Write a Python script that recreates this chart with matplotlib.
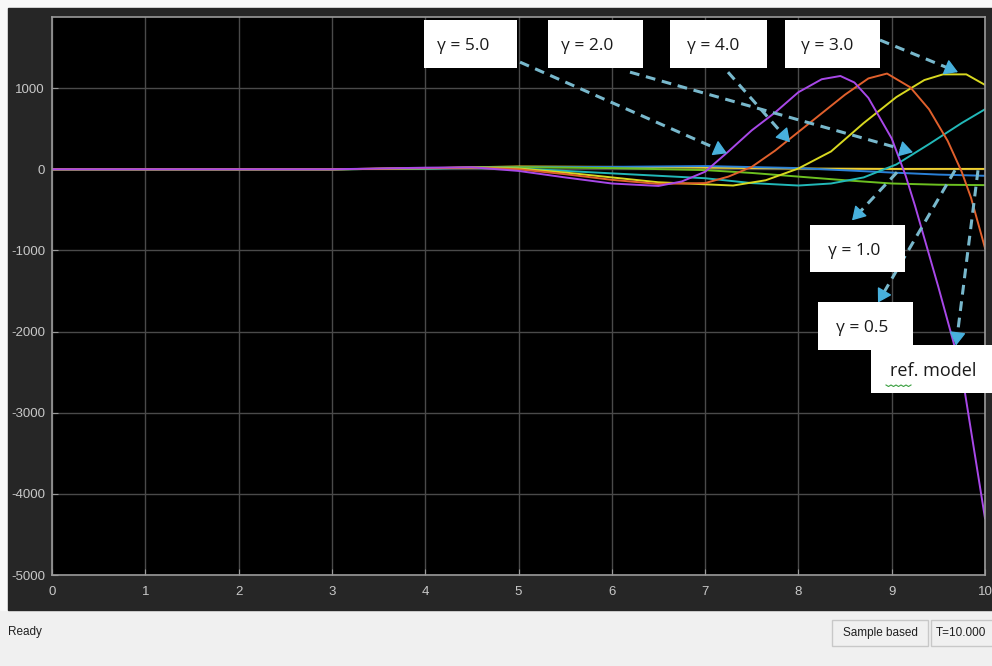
import matplotlib
matplotlib.use("Agg")
import math
import matplotlib.pyplot as plt
from matplotlib.patches import Rectangle

# ---------------- data ----------------
t_g50 = [0, 1, 2, 3, 4, 4.5, 5, 5.5, 6, 6.5, 6.75, 7, 7.25, 7.5, 7.75, 8, 8.25, 8.45, 8.6, 8.75, 9, 9.15, 9.25, 9.5, 9.75, 10]
y_g50 = [0, 0, 0, 0, 20, 25, -20, -100, -175, -205, -150, -30, 220, 480, 700, 950, 1110, 1150, 1070, 880, 380, -80, -450, -1450, -2500, -4300]

t_g40 = [0, 1, 2, 3, 4, 4.5, 5, 5.5, 6, 6.5, 7, 7.25, 7.5, 7.75, 8, 8.25, 8.5, 8.75, 8.95, 9.2, 9.4, 9.6, 9.75, 9.85, 10]
y_g40 = [0, 0, 0, 0, 15, 20, 0, -60, -130, -180, -170, -90, 30, 230, 460, 690, 920, 1120, 1180, 1010, 740, 350, -30, -350, -970]

t_g30 = [0, 1, 2, 3, 4, 4.5, 5, 5.5, 6, 6.5, 7, 7.3, 7.65, 8, 8.35, 8.7, 9.05, 9.35, 9.55, 9.8, 10]
y_g30 = [0, 0, 0, 0, 15, 20, 10, -40, -100, -160, -185, -200, -135, 10, 220, 570, 890, 1100, 1170, 1170, 1040]

t_g20 = [0, 1, 2, 3, 4, 4.5, 5, 5.5, 6, 6.5, 7, 7.5, 8, 8.35, 8.7, 9.05, 9.4, 9.75, 10]
y_g20 = [0, 0, 0, 0, 10, 15, 10, -20, -50, -80, -110, -170, -200, -175, -100, 60, 310, 570, 740]

t_g10 = [0, 1, 2, 3, 4, 4.5, 5, 6, 7, 7.5, 8, 8.5, 9, 9.5, 10]
y_g10 = [0, 0, 0, 0, 10, 20, 25, 15, -10, -45, -90, -135, -175, -190, -195]

t_g05 = [0, 1, 2, 3, 4, 4.5, 5, 6, 7, 8, 9, 9.5, 10]
y_g05 = [0, 0, 0, 0, 10, 20, 25, 30, 40, 15, -40, -65, -80]

t_ref = [0, 1, 2, 3, 4, 4.5, 5, 6, 7, 8, 9, 10]
y_ref = [0, 0, 0, 0, 10, 25, 35, 30, 20, 10, 5, 5]

x_ticks = list(range(0, 11))
y_ticks = [-5000, -4000, -3000, -2000, -1000, 0, 1000]
box_labels = ["γ = 5.0", "γ = 2.0", "γ = 4.0", "γ = 3.0", "γ = 1.0", "γ = 0.5", "ref. model"]

# ---------------- figure / layout ----------------
W, H = 992, 666
fig = plt.figure(figsize=(W / 100, H / 100), dpi=100)
fig.patch.set_facecolor("#f0f0f0")

def fpx(px, py, w, h):
    """rectangle in figure-fraction from top-left pixel coords"""
    return (px / W, 1 - (py + h) / H, w / W, h / H)

# top white strip and dark scope panel (behind the axes)
l, b, w, h = fpx(0, 0, W, 8)
fig.patches.append(Rectangle((l, b), w, h, transform=fig.transFigure, color="#f8f8f8", zorder=-2))
l, b, w, h = fpx(0, 0, 8, 610)
fig.patches.append(Rectangle((l, b), w, h, transform=fig.transFigure, color="#f8f8f8", zorder=-2))
l, b, w, h = fpx(8, 8, W - 8, 602)
fig.patches.append(Rectangle((l, b), w, h, transform=fig.transFigure, color="#262626", zorder=-1))

AX_L, AX_T, AX_R, AX_B = 52, 17, 985, 575
ax = fig.add_axes([AX_L / W, 1 - AX_B / H, (AX_R - AX_L) / W, (AX_B - AX_T) / H])
ax.set_facecolor("black")
ax.set_xlim(0, 10)
ax.set_ylim(-5000, 1877)

ax.set_xticks(x_ticks)
ax.set_yticks(y_ticks)
ax.set_xticklabels([str(v) for v in x_ticks])
ax.set_yticklabels([str(v) for v in y_ticks])
ax.tick_params(axis="both", direction="in", length=4, color="#9a9a9a",
               labelcolor="#c8c8c8", labelsize=9.5)
ax.tick_params(axis="x", pad=8)
ax.tick_params(axis="y", pad=5)
for lab in ax.get_xticklabels() + ax.get_yticklabels():
    lab.set_family(["Liberation Sans", "DejaVu Sans"])
ax.grid(True, color="#4a4a4a", linewidth=1.0)
for s in ax.spines.values():
    s.set_color("#9a9a9a")
    s.set_linewidth(1.2)

# ---------------- curves ----------------
lw = 1.4
ax.plot(t_ref, y_ref, color="#f0d030", lw=lw, zorder=2)
ax.plot(t_g05, y_g05, color="#2a80d8", lw=lw, zorder=2)
ax.plot(t_g10, y_g10, color="#6cc020", lw=lw, zorder=2)
ax.plot(t_g20, y_g20, color="#22b8b8", lw=lw, zorder=2)
ax.plot(t_g30, y_g30, color="#d8d820", lw=lw, zorder=2)
ax.plot(t_g40, y_g40, color="#e0602c", lw=lw, zorder=2)
ax.plot(t_g50, y_g50, color="#a848e8", lw=lw, zorder=2)

# ---------------- annotations ----------------
def P(px, py):
    return ((px - AX_L) / 93.3, (169 - py) / 0.081)

boxes = [(424, 20, 517, 68), (548, 20, 643, 68), (670, 20, 767, 68), (785, 20, 880, 68),
         (810, 225, 905, 272), (818, 302, 913, 350), (871, 345, 995, 393)]
text_shift = [-7, -8, -5, -5, -3, -3, 0]
arrows = [((520, 62), (727, 153)), ((630, 72), (913, 152)), ((728, 72), (790, 142)),
          ((880, 40), (958, 72)), ((897, 172), (852, 220)), ((955, 170), (878, 302)),
          ((978, 170), (956, 345))]

for (s, e) in arrows:
    dx, dy = e[0] - s[0], e[1] - s[1]
    L = math.hypot(dx, dy)
    hb = (e[0] - dx / L * 9, e[1] - dy / L * 9)   # base of arrow head
    xs, ys = zip(P(*s), P(*hb))
    ax.plot(xs, ys, color="#78b8cc", lw=2.2, dashes=(3.2, 2.2), solid_capstyle="butt",
            dash_capstyle="butt", zorder=3, clip_on=False)
    ax.annotate("", xy=P(*e), xytext=P(*hb), xycoords="data", textcoords="data",
                arrowprops=dict(arrowstyle="-|>,head_length=0.75,head_width=0.45",
                                color="#48b0dc", lw=1.0, shrinkA=0, shrinkB=0,
                                mutation_scale=11),
                annotation_clip=False, zorder=3)

for lab, (x0, y0, x1, y1), sh in zip(box_labels, boxes, text_shift):
    l, b, w, h = fpx(x0, y0, x1 - x0, y1 - y0)
    fig.patches.append(Rectangle((l, b), w, h, transform=fig.transFigure,
                                 facecolor="white", edgecolor="none", zorder=5))
    fig.text(((x0 + x1) / 2 + sh) / W, 1 - ((y0 + y1) / 2 + 2) / H, lab, ha="center", va="center",
             fontsize=12.5 if lab.startswith("γ") else 13, color="#1a1a1a",
             family=["Open Sans", "DejaVu Sans"], zorder=6)

# spell-check squiggle under "ref"
zx = [886 + 2.5 * i for i in range(11)]
zy = [385 + (1.5 if i % 2 else 0) for i in range(11)]
fig.lines.append(plt.Line2D([v / W for v in zx], [1 - v / H for v in zy],
                            transform=fig.transFigure, color="#3aa040", lw=0.8, zorder=7))

# ---------------- status bar ----------------
fig.text(8 / W, 1 - 632 / H, "Ready", ha="left", va="center", fontsize=8.5,
         color="#202020", family=["Liberation Sans", "DejaVu Sans"])
for (x0, x1, txt, ha, tx) in [(832, 928, "Sample based", "center", 880), (931, 998, "T=10.000", "left", 936)]:
    l, b, w, h = fpx(x0, 620, x1 - x0, 26)
    fig.patches.append(Rectangle((l, b), w, h, transform=fig.transFigure,
                                 facecolor="#f0f0f0", edgecolor="#c8c8c8", lw=1.0, zorder=1))
    fig.text(tx / W, 1 - 633 / H, txt, ha=ha, va="center", fontsize=8.5,
             color="#202020", family=["Liberation Sans", "DejaVu Sans"])

fig.savefig("out.png", dpi=100, facecolor=fig.get_facecolor())
